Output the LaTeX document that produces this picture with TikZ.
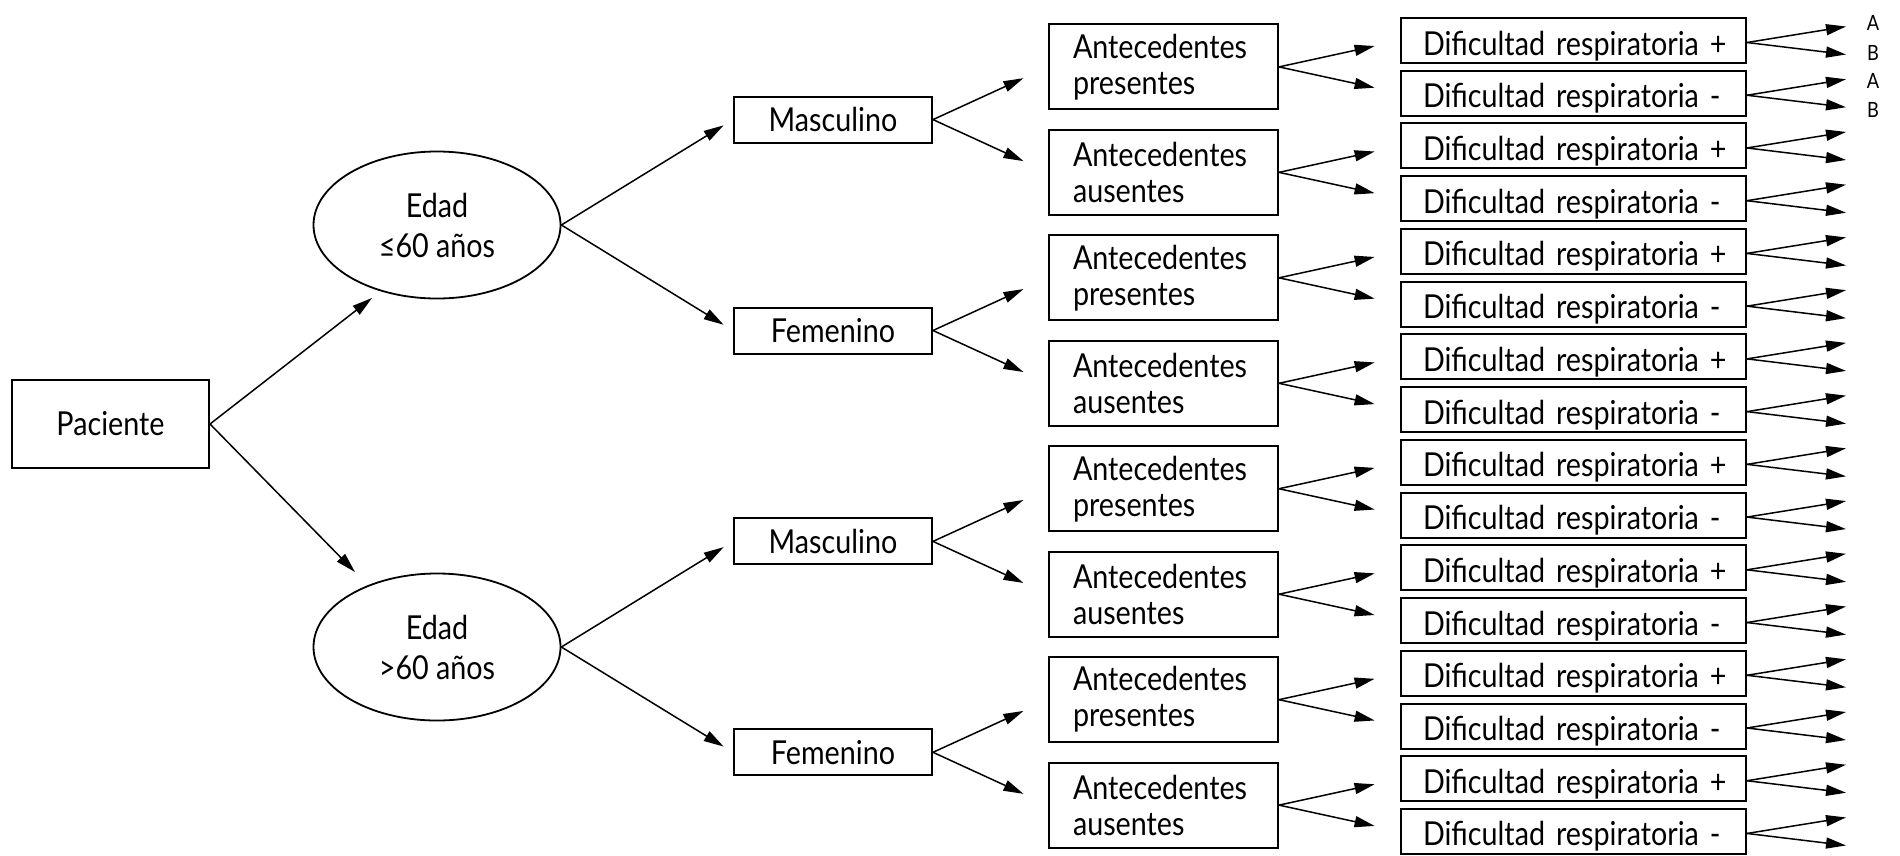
\documentclass[tikz,border=0pt]{standalone}
\usepackage{fontspec}
\setmainfont[FakeStretch=0.87]{Lato}
\usetikzlibrary{shapes.geometric,arrows.meta,calc}
\begin{document}
\begin{tikzpicture}[x=1pt,y=-1pt,
  font=\fontsize{33}{36}\selectfont,
  box/.style={draw, line width=2pt, inner sep=0pt},
  pacbox/.style={box, minimum width=197pt, minimum height=88pt},
  oval/.style={draw, ellipse, line width=1.8pt, inner sep=0pt, minimum width=247pt, minimum height=147pt, align=center, font=\fontsize{33}{40}\selectfont},
  sexbox/.style={box, minimum width=198pt, minimum height=46pt},
  antbox/.style={box, text width=181pt, inner xsep=24pt, minimum height=85pt, align=left},
  difbox/.style={box, text width=301pt, inner xsep=22pt, minimum height=45pt, text height=29pt, text depth=0pt, align=left},
  lbl/.style={font=\fontsize{21}{21}\selectfont, inner sep=0pt},
  arr/.style={line width=1.5pt, -{Triangle[length=20pt,width=11pt]}},
]
\useasboundingbox (0,0) rectangle (1900,855);

% nodes
\node[pacbox] (pac) at (110.5,424) {Paciente};
\node[oval] (e0) at (437,225) {Edad\\≤60 años};
\node[oval] (e1) at (437,647) {Edad\\>60 años};

\foreach \i in {0,...,3}{
  \pgfmathsetmacro\yy{119.6+210.9*\i}
  \ifodd\i \def\sx{Femenino}\else\def\sx{Masculino}\fi
  \node[sexbox] (g\i) at (833,\yy) {\sx};
}
\foreach \j in {0,...,7}{
  \pgfmathsetmacro\yy{66.9+105.46*\j}
  \ifodd\j \def\an{ausentes}\else\def\an{presentes}\fi
  \node[antbox] (a\j) at (1163.5,\yy) {Antecedentes\\\an};
}
\foreach \k in {0,...,15}{
  \pgfmathsetmacro\yy{40.5+52.73*\k}
  \ifodd\k \def\sg{-}\else\def\sg{+}\fi
  \node[difbox] (d\k) at (1573.5,\yy) {\mbox{Dificultad respiratoria \sg}};
  \coordinate (u\k) at ($(d\k.east)+(99,-14)$);
  \coordinate (v\k) at ($(d\k.east)+(99,14)$);
  \draw[arr] ([yshift=-2pt]d\k.east) -- (u\k);
  \draw[arr] ([yshift=-2pt]d\k.east) -- (v\k);
}

% labels A / B
\node[lbl] (la0) at (1873,23) {A};
\node[lbl] (lb0) at (1873,53) {B};
\node[lbl] (la1) at (1873,81) {A};
\node[lbl] (lb1) at (1873,110) {B};

% connectors
\coordinate (t0) at (372,298);
\coordinate (t1) at (355,572);
\draw[arr] (pac.east) -- (t0);
\draw[arr] (pac.east) -- (t1);

\draw[arr, shorten >=11pt] (e0.east) -- (g0.west);
\draw[arr, shorten >=11pt] (e0.east) -- (g1.west);
\draw[arr, shorten >=11pt] (e1.east) -- (g2.west);
\draw[arr, shorten >=11pt] (e1.east) -- (g3.west);

\foreach \i in {0,...,3}{
  \pgfmathtruncatemacro\ja{2*\i}
  \pgfmathtruncatemacro\jb{2*\i+1}
  \draw[arr, shorten >=27pt] (g\i.east) -- (a\ja.west);
  \draw[arr, shorten >=27pt] (g\i.east) -- (a\jb.west);
}
\foreach \j in {0,...,7}{
  \pgfmathtruncatemacro\ka{2*\j}
  \pgfmathtruncatemacro\kb{2*\j+1}
  \draw[arr, shorten >=26pt] (a\j.east) -- (d\ka.west);
  \draw[arr, shorten >=26pt] (a\j.east) -- (d\kb.west);
}
\end{tikzpicture}
\end{document}
